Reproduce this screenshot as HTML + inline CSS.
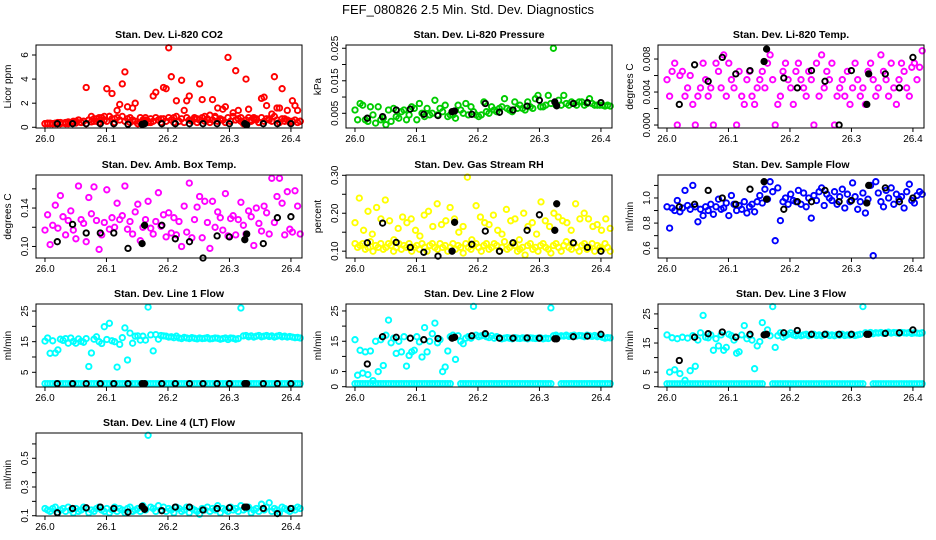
<!DOCTYPE html>
<html><head><meta charset="utf-8"><title>FEF_080826 Diagnostics</title>
<style>
html,body{margin:0;padding:0;background:#fff;}
svg{display:block;font-family:"Liberation Sans",Arial,sans-serif;}
</style></head>
<body>
<svg id="chart" width="936" height="540" viewBox="0 0 936 540" xmlns="http://www.w3.org/2000/svg">
<rect x="0" y="0" width="936" height="540" fill="#fff"/>
<text x="468" y="14" text-anchor="middle" font-size="13" fill="#000">FEF_080826  2.5 Min. Std. Dev. Diagnostics</text>
</svg>
<script>
// shared category/time data
const xTicks = [26.0, 26.1, 26.2, 26.3, 26.4];
const xTickLabels = ["26.0", "26.1", "26.2", "26.3", "26.4"];
const seriesStart = 26.0;
const seriesEnd = 26.415;
const blackTimes = [26.02,26.045,26.067,26.09,26.112,26.135,26.158,26.162,26.19,26.212,26.235,26.257,26.28,26.30,26.325,26.328,26.355,26.378,26.40];
const blackFilled = [false,false,false,false,false,false,true,true,false,false,false,false,false,false,true,true,false,false,false];

// panel 1: CO2
const co2Values = [0.3,0.3,0.35,0.3,0.3,0.4,0.3,0.35,0.4,0.3,0.4,0.45,0.5,0.6,0.4,0.5,3.3,0.6,0.9,0.5,0.7,0.8,0.6,0.9,3.2,0.9,2.8,0.7,1.4,1.9,3.6,4.6,1.7,0.8,1.6,2.0,0.3,0.4,0.6,0.8,0.5,0.4,2.6,2.9,0.6,0.7,3.3,3.2,6.6,4.2,0.8,2.2,0.5,3.9,1.4,2.2,2.6,0.6,0.8,0.7,3.6,2.3,0.9,0.6,1.0,2.3,0.8,1.6,0.6,1.5,1.7,5.8,0.5,1.2,4.7,1.4,0.8,0.3,4.0,1.5,0.6,0.8,0.7,0.4,2.4,2.5,1.8,0.7,1.1,4.2,1.6,1.6,3.2,0.7,1.4,0.5,2.2,1.8,1.4,0.5];
const co2Base = [0.3,0.35,0.3,0.3,0.35,0.3,0.4,0.35,0.3,0.45,0.4,0.5,0.35,0.6,0.4,0.5,0.3,0.6,0.45,0.7,0.5,0.4,0.8,0.6,0.5,0.9,0.7,0.4,0.8,0.6,0.9,0.5,0.7,0.4,0.6,0.5,0.3,0.8,0.5,0.6,0.4,0.7,0.5,0.8,0.6,0.4,0.7,0.5,0.8,0.6,0.4,0.9,0.5,0.7,0.4,0.8,0.6,0.5,0.7,0.4,0.6,0.8,0.5,0.7,0.4,0.6,0.9,0.5,0.7,0.6,0.4,0.8,0.5,0.9,0.6,0.7,0.5,0.4,0.6,0.8,0.5,0.7,0.6,0.4,0.8,0.5,0.7,0.6,0.5,0.9,0.6,0.4,0.7,0.5,0.6,0.4,0.5,0.6,0.4,0.5];
const co2Black = [0.3,0.3,0.3,0.3,0.3,0.25,0.25,0.3,0.3,0.3,0.3,0.3,0.3,0.3,0.3,0.2,0.3,0.3,0.3];

// panel 2: pressure
const presValues = [0.006,0.003,0.008,0.0075,0.003,0.0025,0.007,0.0045,0.002,0.007,0.003,0.0035,0.0015,0.006,0.0025,0.0065,0.004,0.0035,0.0055,0.006,0.003,0.0045,0.007,0.0065,0.003,0.008,0.005,0.004,0.0065,0.0045,0.005,0.009,0.0045,0.0065,0.0055,0.0075,0.004,0.0045,0.0045,0.0035,0.0075,0.006,0.005,0.008,0.0045,0.007,0.0055,0.0045,0.004,0.0045,0.0085,0.0055,0.005,0.007,0.006,0.0055,0.0065,0.007,0.0095,0.0065,0.006,0.0055,0.0085,0.0065,0.0075,0.0065,0.006,0.0085,0.007,0.0065,0.0095,0.0105,0.007,0.007,0.0075,0.0105,0.008,0.025,0.0075,0.009,0.0075,0.0105,0.008,0.0075,0.0085,0.008,0.0075,0.0085,0.0085,0.0075,0.008,0.0095,0.008,0.0075,0.0075,0.0075,0.0075,0.0072,0.0075,0.0072];
const presBlack = [0.0035,0.004,0.006,0.0063,0.0047,0.0043,0.0055,0.0057,0.0047,0.008,0.0053,0.006,0.0072,0.009,0.0085,0.0073,0.008,0.0083,0.0083];

// panel 3: Li-820 temp
const ltempValues = [0.0055,0.0035,0.0065,0.0075,0.0,0.006,0.0065,0.0035,0.0045,0.006,0.0025,0.0,0.0035,0.0045,0.0075,0.0055,0.0035,0.0045,0.0,0.0075,0.0065,0.0045,0.0085,0.0035,0.0075,0.0055,0.0045,0.0,0.0065,0.0035,0.0025,0.0055,0.0065,0.0035,0.0025,0.0045,0.0055,0.0065,0.0045,0.0075,0.0085,0.0055,0.0,0.0025,0.0035,0.0065,0.0075,0.0055,0.0045,0.0025,0.0065,0.0075,0.0055,0.0045,0.0035,0.0065,0.0055,0.0,0.0075,0.0035,0.0085,0.0045,0.0065,0.0055,0.0075,0.0,0.0035,0.0045,0.0055,0.0035,0.0065,0.0025,0.0045,0.0075,0.0055,0.0035,0.0045,0.0025,0.0065,0.0075,0.0055,0.0035,0.0045,0.0085,0.0065,0.0055,0.0035,0.0075,0.0045,0.0025,0.0055,0.0075,0.0065,0.0045,0.0035,0.007,0.0075,0.0055,0.007,0.009];
const ltempBlack = [0.0025,0.0073,0.0053,0.0082,0.0062,0.0066,0.0077,0.0092,0.0057,0.0045,0.0066,0.0053,0.0,0.0066,0.0025,0.0062,0.0062,0.0045,0.0082];

// panel 4: amb box temp
const ambValues = [0.117,0.133,0.102,0.122,0.143,0.119,0.153,0.131,0.112,0.127,0.137,0.117,0.108,0.163,0.128,0.124,0.105,0.151,0.134,0.162,0.127,0.097,0.112,0.125,0.159,0.118,0.130,0.120,0.145,0.128,0.132,0.163,0.118,0.126,0.113,0.136,0.144,0.106,0.120,0.128,0.147,0.119,0.113,0.126,0.156,0.121,0.133,0.110,0.135,0.114,0.130,0.112,0.126,0.100,0.142,0.115,0.166,0.109,0.128,0.141,0.152,0.109,0.147,0.125,0.098,0.147,0.120,0.136,0.130,0.117,0.155,0.111,0.129,0.132,0.112,0.128,0.146,0.122,0.113,0.137,0.131,0.101,0.140,0.124,0.116,0.142,0.135,0.113,0.171,0.125,0.152,0.171,0.145,0.112,0.157,0.118,0.115,0.158,0.142,0.113];
const ambBlack = [0.105,0.123,0.114,0.114,0.114,0.098,0.103,0.122,0.122,0.108,0.105,0.088,0.111,0.110,0.107,0.113,0.103,0.130,0.131];

// panel 5: gas stream RH
const rhBase = [0.12,0.11,0.115,0.12,0.105,0.11,0.125,0.10,0.115,0.11,0.12,0.105,0.11,0.12,0.115,0.10,0.11,0.12,0.105,0.115,0.11,0.12,0.10,0.11,0.115,0.105,0.12,0.11,0.10,0.115,0.12,0.11,0.105,0.12,0.11,0.115,0.10,0.11,0.12,0.105,0.115,0.11,0.095,0.12,0.11,0.105,0.115,0.12,0.11,0.10,0.115,0.12,0.105,0.11,0.12,0.115,0.10,0.11,0.125,0.105,0.11,0.12,0.115,0.10,0.105,0.11,0.09,0.115,0.12,0.105,0.11,0.10,0.115,0.12,0.11,0.105,0.095,0.115,0.12,0.11,0.10,0.115,0.125,0.11,0.105,0.12,0.11,0.10,0.115,0.12,0.105,0.11,0.12,0.10,0.115,0.11,0.105,0.12,0.11,0.10];
const rhUpper = [0.175,0.24,0.155,0.205,0.145,0.215,0.185,0.235,0.18,0.13,0.16,0.19,0.175,0.185,0.155,0.14,0.195,0.205,0.165,0.225,0.17,0.18,0.215,0.185,0.15,0.165,0.295,0.13,0.22,0.19,0.175,0.17,0.195,0.155,0.145,0.21,0.18,0.185,0.13,0.2,0.165,0.175,0.145,0.23,0.18,0.165,0.2,0.19,0.18,0.175,0.155,0.225,0.185,0.2,0.185,0.165,0.17,0.155,0.185,0.16];
const rhBlack = [0.122,0.174,0.123,0.11,0.097,0.087,0.10,0.176,0.118,0.153,0.10,0.122,0.155,0.196,0.155,0.225,0.122,0.11,0.10];

// panel 6: sample flow
const sflowValues = [0.93,0.76,0.92,0.90,0.98,0.89,0.92,1.06,0.94,0.91,1.10,0.93,0.81,0.91,0.86,0.93,0.90,0.95,0.87,0.93,0.99,0.91,0.92,0.96,0.86,1.02,0.95,0.90,0.94,0.91,0.97,0.88,0.93,0.95,0.89,0.97,1.02,0.96,1.07,0.99,1.13,1.05,0.66,1.08,0.82,0.97,1.00,0.95,1.03,0.98,0.97,1.06,0.95,1.04,0.93,1.00,0.84,1.02,0.98,1.05,1.08,0.94,1.03,1.00,0.98,1.05,0.95,1.01,1.07,0.92,1.03,0.97,1.12,1.01,0.91,0.97,1.04,0.88,0.99,1.10,0.54,1.13,1.04,0.97,0.93,1.06,1.00,1.08,0.95,1.03,0.99,1.01,0.92,1.05,1.11,0.98,0.96,1.02,1.05,1.03];
const sflowBlack = [0.93,0.95,1.06,1.00,0.95,1.07,1.13,0.99,0.91,0.97,0.97,1.06,0.97,0.98,0.96,1.10,1.08,0.97,1.00];

// panel 7: line 1 flow
const l1Values = [15.2,16.2,11.2,15.3,11.3,12.3,15.8,15.4,16.0,14.5,16.2,15.1,14.5,15.9,15.1,14.8,16.0,6.9,11.3,15.8,16.6,15.0,14.4,19.9,15.7,21.0,15.3,15.0,6.7,14.1,16.3,19.5,9.0,17.8,14.5,16.8,16.9,15.5,16.8,15.5,26.3,17.2,12.0,17.3,15.8,17.0,16.9,16.8,16.5,16.6,16.3,16.8,16.2,16.0,16.4,16.2,16.0,16.3,16.1,15.9,16.2,16.0,16.1,16.3,15.9,16.0,16.2,16.1,15.8,16.0,16.2,15.7,16.2,16.1,15.8,16.0,26.0,16.9,17.0,16.6,16.9,16.5,16.8,17.0,16.6,16.8,17.0,16.7,16.9,16.5,16.8,17.0,16.6,16.8,16.5,16.7,16.5,16.3,16.4,16.2];
const l1Low = [1.3,1.3,1.3,1.3,1.3,1.3,1.3,1.3,1.3,1.3,1.3,1.3,1.3,1.3,1.3,1.3,1.3,1.3,1.3,1.3,1.3,1.3,1.3,1.3,1.3,1.3,1.3,1.3,1.3,1.3,1.3,1.3,1.3,1.3,1.3,1.3,1.3,1.3,1.3,1.3,1.3,1.3,1.3,1.3,1.3,1.3,1.3,1.3,1.3,1.3,1.3,1.3,1.3,1.3,1.3,1.3,1.3,1.3,1.3,1.3,1.3,1.3,1.3,1.3,1.3,1.3,1.3,1.3,1.3,1.3,1.3,1.3,1.3,1.3,1.3,1.3,1.3,1.3,1.3,1.3,1.3,1.3,1.3,1.3,1.3,1.3,1.3,1.3,1.3,1.3,1.3,1.3,1.3,1.3,1.3,1.3,1.3,1.3,1.3,1.3];
const l1Black = [1.3,1.3,1.3,1.3,1.3,1.3,1.3,1.3,1.3,1.3,1.3,1.3,1.3,1.3,1.3,1.3,1.3,1.3,1.3];

// panel 8: line 2 flow
const l2Values = [15.5,3.8,12.0,4.5,11.5,4.0,11.8,2.0,15.0,5.0,15.5,7.0,17.0,22.0,14.5,16.0,11.0,15.0,11.5,16.5,6.8,10.3,11.5,12.0,16.5,14.8,9.8,19.5,11.5,15.0,17.5,21.0,14.5,15.5,5.0,6.5,11.8,16.5,17.0,9.0,16.8,15.0,14.2,16.0,16.5,16.0,26.5,17.0,16.5,16.8,17.0,16.5,16.2,16.8,16.0,16.5,16.2,15.8,16.0,16.2,16.0,15.8,16.2,16.0,15.9,16.1,16.0,15.8,16.1,16.0,15.9,16.0,16.1,15.8,16.0,15.9,26.0,16.8,17.0,16.5,16.8,16.7,17.0,16.6,16.8,17.0,16.7,16.9,16.8,16.5,17.0,16.8,16.6,16.9,16.5,16.7,16.3,16.0,16.2,16.1];
const l2Low = [1.0,1.0,1.0,1.0,1.0,1.0,1.0,1.0,1.0,1.0,1.0,1.0,1.0,1.0,1.0,1.0,1.0,1.0,1.0,1.0,1.0,1.0,1.0,1.0,1.0,1.0,1.0,1.0,1.0,1.0,1.0,1.0,1.0,1.0,1.0,1.0,1.0,1.0,null,null,null,1.0,1.0,1.0,1.0,1.0,1.0,1.0,1.0,1.0,1.0,1.0,1.0,1.0,1.0,1.0,1.0,1.0,1.0,1.0,1.0,1.0,1.0,1.0,1.0,1.0,1.0,1.0,1.0,1.0,1.0,1.0,1.0,1.0,1.0,1.0,1.0,null,null,null,1.0,1.0,1.0,1.0,1.0,1.0,1.0,1.0,1.0,1.0,1.0,1.0,1.0,1.0,1.0,1.0,1.0,1.0,1.0,1.0];
const l2Black = [7.5,16.5,16.3,16.0,15.5,15.9,16.0,16.3,16.8,17.5,16.0,16.0,16.1,16.0,15.8,15.8,16.5,16.7,17.3];

// panel 9: line 3 flow
const l3Values = [17.8,5.0,16.8,5.8,16.5,4.5,17.0,2.2,16.7,5.5,17.5,7.0,16.0,18.5,24.5,17.0,16.8,17.8,12.5,16.5,14.0,17.8,12.5,13.5,18.0,17.5,16.0,11.5,12.0,17.8,21.0,16.5,17.5,16.0,6.2,14.0,15.5,22.0,18.0,19.5,17.5,27.5,13.5,17.5,18.5,17.0,17.5,18.0,18.5,17.8,17.5,18.0,17.5,17.8,18.0,17.5,17.8,18.0,17.6,17.8,17.5,17.8,18.0,17.6,17.8,17.5,17.9,17.7,18.0,17.6,17.8,17.7,17.9,17.6,17.8,18.0,27.5,18.5,18.3,18.6,18.2,18.5,18.4,18.6,18.3,18.5,18.7,18.4,18.6,18.5,18.3,18.6,18.5,18.4,18.6,18.3,18.5,18.4,18.3,18.5];
const l3Low = [1.0,1.0,1.0,1.0,1.0,1.0,1.0,1.0,1.0,1.0,1.0,1.0,1.0,1.0,1.0,1.0,1.0,1.0,1.0,1.0,1.0,1.0,1.0,1.0,1.0,1.0,1.0,1.0,1.0,1.0,1.0,1.0,1.0,1.0,1.0,1.0,1.0,1.0,null,null,null,1.0,1.0,1.0,1.0,1.0,1.0,1.0,1.0,1.0,1.0,1.0,1.0,1.0,1.0,1.0,1.0,1.0,1.0,1.0,1.0,1.0,1.0,1.0,1.0,1.0,1.0,1.0,1.0,1.0,1.0,1.0,1.0,1.0,1.0,1.0,1.0,null,null,null,1.0,1.0,1.0,1.0,1.0,1.0,1.0,1.0,1.0,1.0,1.0,1.0,1.0,1.0,1.0,1.0,1.0,1.0,1.0,1.0];
const l3Black = [9.0,17.0,18.2,18.8,17.0,18.0,17.8,18.0,18.5,19.3,18.0,18.0,18.0,18.0,18.0,18.0,18.3,18.5,19.5];

// panel 10: line 4 flow
const l4Values = [0.15,0.14,0.13,0.15,0.16,0.12,0.14,0.15,0.13,0.16,0.14,0.12,0.15,0.13,0.14,0.16,0.15,0.12,0.14,0.13,0.15,0.16,0.14,0.13,0.15,0.12,0.14,0.16,0.13,0.15,0.14,0.12,0.15,0.16,0.13,0.14,0.15,0.13,0.17,0.14,0.66,0.16,0.15,0.13,0.17,0.14,0.16,0.13,0.15,0.14,0.12,0.16,0.15,0.13,0.14,0.16,0.12,0.15,0.14,0.13,0.11,0.15,0.14,0.16,0.13,0.15,0.14,0.17,0.12,0.15,0.14,0.13,0.16,0.14,0.15,0.13,0.17,0.14,0.15,0.16,0.12,0.14,0.15,0.13,0.18,0.14,0.16,0.19,0.13,0.15,0.14,0.12,0.16,0.15,0.14,0.13,0.15,0.14,0.16,0.15];
const l4Black = [0.12,0.15,0.155,0.16,0.15,0.125,0.165,0.145,0.135,0.16,0.16,0.14,0.15,0.155,0.16,0.16,0.15,0.115,0.15];

const panels = [
 {key:"co2", title:"Stan. Dev. Li-820 CO2", ylab:"Licor ppm", col:0,row:0, ylim:[-0.06,6.83], yt:[0,2,4,6], yl:["0","2","4","6"], color:"#ff0000", series:[co2Base,co2Values], black:co2Black},
 {key:"pressure", title:"Stan. Dev. Li-820 Pressure", ylab:"kPa", col:1,row:0, ylim:[0.00048,0.026], yt:[0.005,0.010,0.015,0.020,0.025], yl:["0.005","","0.015","","0.025"], color:"#00cc00", series:[presValues], black:presBlack},
 {key:"licor-temp", title:"Stan. Dev. Li-820 Temp.", ylab:"degrees C", col:2,row:0, ylim:[-0.00036,0.0097], yt:[0,0.002,0.004,0.006,0.008], yl:["0.000","","0.004","","0.008"], color:"#ff00ff", series:[ltempValues], black:ltempBlack},
 {key:"amb-temp", title:"Stan. Dev. Amb. Box Temp.", ylab:"degrees C", col:0,row:1, ylim:[0.088,0.1744], yt:[0.10,0.12,0.14,0.16], yl:["0.10","","0.14",""], color:"#ff00ff", series:[ambValues], black:ambBlack},
 {key:"rh", title:"Stan. Dev. Gas Stream RH", ylab:"percent", col:1,row:1, ylim:[0.082,0.3008], yt:[0.10,0.15,0.20,0.25,0.30], yl:["0.10","","0.20","","0.30"], color:"#ffff00", series:[rhBase,rhUpper], black:rhBlack},
 {key:"sample-flow", title:"Stan. Dev. Sample Flow", ylab:"ml/min", col:2,row:1, ylim:[0.522,1.183], yt:[0.6,0.7,0.8,0.9,1.0,1.1], yl:["0.6","","0.8","","1.0",""], color:"#0000ff", series:[sflowValues], black:sflowBlack},
 {key:"line1", title:"Stan. Dev. Line 1 Flow", ylab:"ml/min", col:0,row:2, ylim:[0.2,27.3], yt:[5,10,15,20,25], yl:["5","","15","","25"], color:"#00ffff", series:[l1Low,l1Values], black:l1Black},
 {key:"line2", title:"Stan. Dev. Line 2 Flow", ylab:"ml/min", col:1,row:2, ylim:[-0.1,27.3], yt:[0,5,10,15,20,25], yl:["0","5","","15","","25"], color:"#00ffff", series:[l2Low,l2Values], black:l2Black},
 {key:"line3", title:"Stan. Dev. Line 3 Flow", ylab:"ml/min", col:2,row:2, ylim:[-0.1,28.4], yt:[0,5,10,15,20,25], yl:["0","5","","15","","25"], color:"#00ffff", series:[l3Low,l3Values], black:l3Black},
 {key:"line4", title:"Stan. Dev. Line 4 (LT) Flow", ylab:"ml/min", col:0,row:3, ylim:[0.098,0.676], yt:[0.1,0.2,0.3,0.4,0.5,0.6], yl:["0.1","","0.3","","0.5",""], color:"#00ffff", series:[l4Values], black:l4Black}
];

const NS = "http://www.w3.org/2000/svg";
const svg = document.getElementById("chart");
const colLeft = [36, 346, 658];
const rowTop = [45, 175, 304, 433];
const W = 266, H = 83;
const XMIN = 25.9854, XMAX = 26.418;

function mk(tag, attrs, parent) {
  const e = document.createElementNS(NS, tag);
  for (const k in attrs) e.setAttribute(k, attrs[k]);
  parent.appendChild(e);
  return e;
}

panels.forEach(p => {
  const L = colLeft[p.col], T = rowTop[p.row];
  const xs = v => L + (v - XMIN) / (XMAX - XMIN) * W;
  const ys = v => T + H - (v - p.ylim[0]) / (p.ylim[1] - p.ylim[0]) * H;
  const g = mk("g", {}, svg);
  
  

  const title = mk("text", {x: L + W/2, y: T - 7, "text-anchor": "middle", "font-size": "10.5", "font-weight": "bold"}, g);
  title.textContent = p.title;
  
  

  const pts = mk("g", {fill: "none", stroke: p.color, "stroke-width": "1.9"}, g);
  
  
  p.series.forEach(arr => {
    const n = arr.length;
    arr.forEach((v, i) => {
      if (v === null) return;
      const t = seriesStart + (seriesEnd - seriesStart) * i / (n - 1);
      const c = mk("circle", {cx: xs(t).toFixed(1), cy: ys(v).toFixed(1), r: "2.7"}, pts);
      
      
    });
  });
  const bp = mk("g", {stroke: "#000", "stroke-width": "1.9"}, g);
  
  
  p.black.forEach((v, i) => {
    const c = mk("circle", {cx: xs(blackTimes[i]).toFixed(1), cy: ys(v).toFixed(1), r: "2.7", fill: blackFilled[i] ? "#000" : "none"}, bp);
    
    
  });

  const fr = mk("rect", {x: L, y: T, width: W, height: H, fill: "none", stroke: "#000", "stroke-width": "1"}, g);
  
  

  const xa = mk("g", {}, g);
  
  
  xTicks.forEach((v, i) => {
    const x = xs(v);
    mk("line", {x1: x, x2: x, y1: T + H, y2: T + H + 4, stroke: "#000"}, xa);
    const tl = mk("text", {x: x, y: T + H + 14, "text-anchor": "middle", "font-size": "10"}, xa);
    tl.textContent = xTickLabels[i];
    
    
  });
  const ya = mk("g", {}, g);
  
  
  p.yt.forEach((v, i) => {
    const y = ys(v);
    mk("line", {x1: L - 4, x2: L, y1: y, y2: y, stroke: "#000"}, ya);
    if (p.yl[i]) {
      const tl = mk("text", {x: 0, y: 0, "text-anchor": "middle", "font-size": "10", transform: `translate(${L - 8},${y}) rotate(-90)`}, ya);
      tl.textContent = p.yl[i];
      
      
    }
  });
  const yt = mk("text", {x: 0, y: 0, "text-anchor": "middle", "font-size": "10", transform: `translate(${L - 25},${T + H/2}) rotate(-90)`}, g);
  yt.textContent = p.ylab;
  
  
});
</script>
</body></html>
